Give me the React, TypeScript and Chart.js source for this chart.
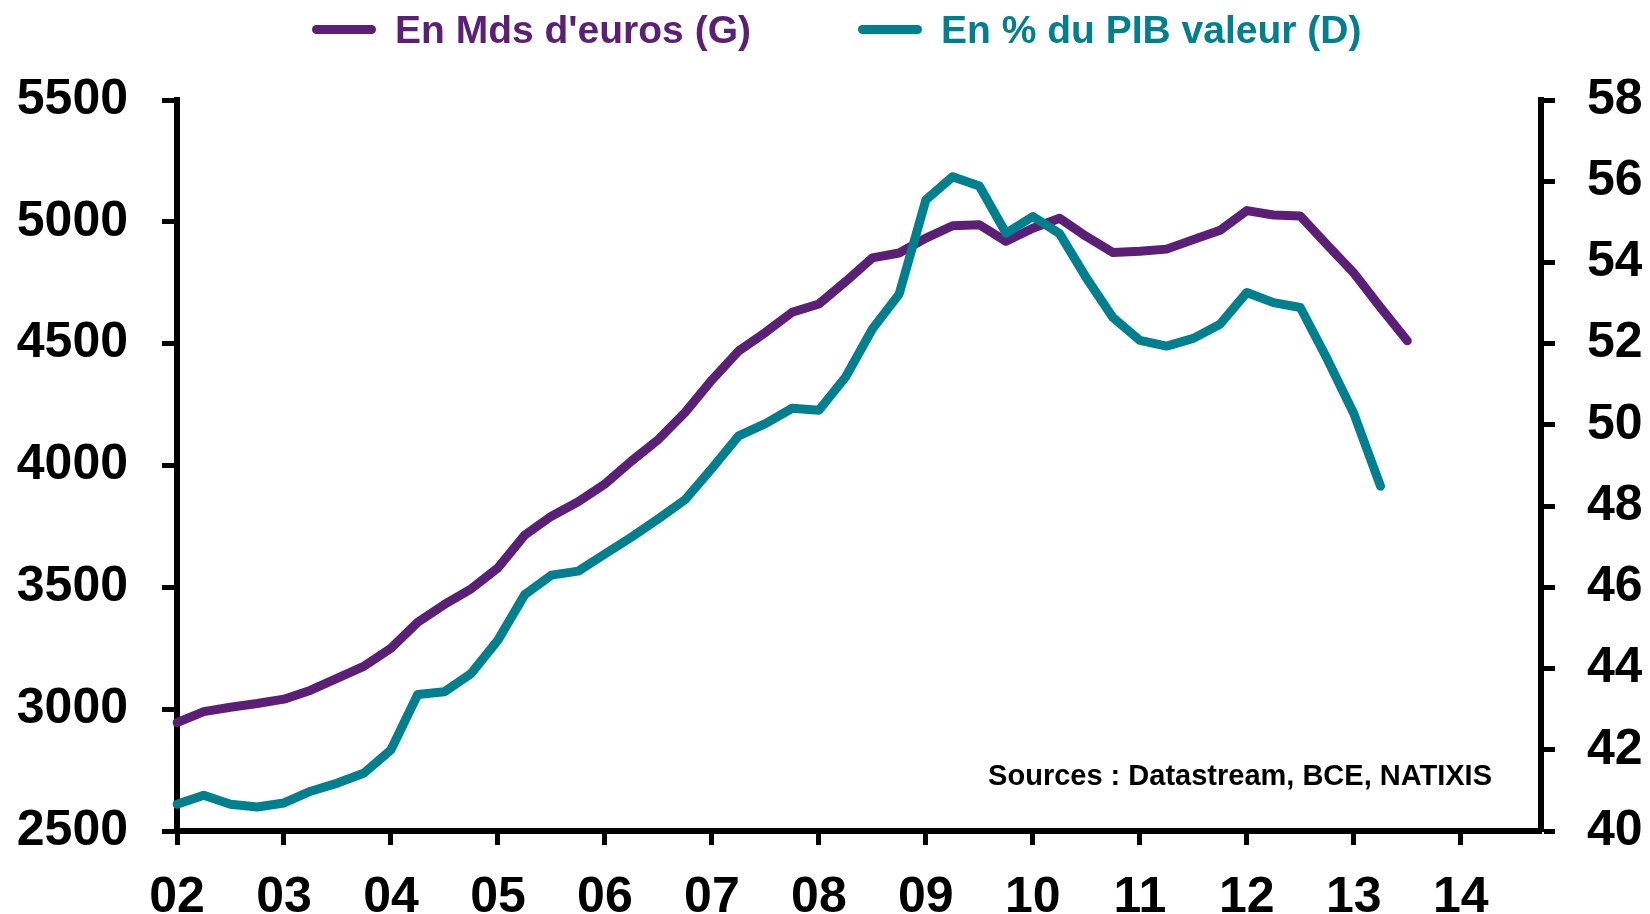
import React, { useEffect, useRef } from 'react';
import { Chart, registerables } from 'chart.js';

Chart.register(...registerables);

// Years shown on the x axis, quarterly categories built from them
const years = ['02', '03', '04', '05', '06', '07', '08', '09', '10', '11', '12', '13', '14'];
const quarters = ['T1', 'T2', 'T3', 'T4'];
const categories = years.flatMap((y) => quarters.map((q) => `${q} ${y}`));

// En Mds d'euros (axe de gauche)
const encoursMds = [
  2945, 2990, 3008, 3023,
  3041, 3078, 3127, 3177,
  3250, 3357, 3430, 3494,
  3580, 3714, 3792, 3851,
  3924, 4019, 4107, 4218,
  4351, 4470, 4546, 4629,
  4663, 4755, 4852, 4872,
  4933, 4984, 4988, 4920,
  4974, 5015, 4940, 4874,
  4879, 4888, 4927, 4965,
  5046, 5028, 5024, 4906,
  4790, 4648, 4512,
];

// En % du PIB valeur (axe de droite)
const encoursPctPib = [
  40.66, 40.88, 40.66, 40.59,
  40.69, 40.98, 41.18, 41.43,
  42.0, 43.36, 43.43, 43.88,
  44.7, 45.82, 46.3, 46.4,
  46.82, 47.24, 47.69, 48.16,
  48.93, 49.73, 50.03, 50.41,
  50.36, 51.18, 52.36, 53.22,
  55.54, 56.11, 55.88, 54.72,
  55.13, 54.71, 53.62, 52.64,
  52.08, 51.94, 52.13, 52.48,
  53.26, 53.01, 52.89, 51.63,
  50.28, 48.49,
];

const seriesNames = ["En Mds d'euros (G)", 'En % du PIB valeur (D)'];
const sourceText = 'Sources : Datastream, BCE, NATIXIS';

const PURPLE = '#5B1F77';
const TEAL = '#00808F';
const FONT = '"Liberation Sans", Arial, Helvetica, sans-serif';

export default function App() {
  const ref = useRef<HTMLCanvasElement | null>(null);

  useEffect(() => {
    document.body.style.margin = '0';
    const canvas = ref.current;
    if (!canvas) return;

    const sourcesPlugin = {
      id: 'sourcesText',
      afterDraw(chart: any) {
        const ctx = chart.ctx;
        ctx.save();
        ctx.font = `bold 29px ${FONT}`;
        ctx.fillStyle = '#000';
        ctx.textAlign = 'right';
        ctx.textBaseline = 'middle';
        ctx.fillText(sourceText, 1492, 777);
        ctx.restore();
      },
    };

    const tickFont = { family: FONT, size: 50, weight: 'bold' as const, lineHeight: 0.8 };

    const chart = new Chart(canvas, {
      type: 'line',
      data: {
        labels: categories,
        datasets: [
          {
            label: seriesNames[0],
            data: encoursMds,
            yAxisID: 'yL',
            borderColor: PURPLE,
            backgroundColor: PURPLE,
            borderWidth: 9,
            pointRadius: 0,
            tension: 0,
            borderCapStyle: 'round',
            borderJoinStyle: 'round',
            order: 2,
          },
          {
            label: seriesNames[1],
            data: encoursPctPib,
            yAxisID: 'yR',
            borderColor: TEAL,
            backgroundColor: TEAL,
            borderWidth: 9,
            pointRadius: 0,
            tension: 0,
            borderCapStyle: 'round',
            borderJoinStyle: 'round',
            order: 1,
          },
        ],
      },
      options: {
        responsive: false,
        animation: false,
        devicePixelRatio: 1,
        layout: { padding: { top: 100, left: 16, right: 8, bottom: 1 } },
        plugins: {
          legend: { display: false },
          tooltip: { enabled: false },
        },
        scales: {
          x: {
            type: 'category',
            offset: false,
            afterFit: (s: any) => {
              s.height = 82;
            },
            grid: {
              display: true,
              drawOnChartArea: false,
              drawTicks: true,
              tickLength: 14,
              tickWidth: 5,
              tickColor: '#000',
            },
            border: { display: true, color: '#000', width: 6 },
            ticks: {
              autoSkip: false,
              maxRotation: 0,
              minRotation: 0,
              padding: 33,
              color: '#000',
              font: tickFont,
              callback: (_v: any, index: number) => (index % 4 === 0 ? years[index / 4] : null),
            },
          },
          yL: {
            type: 'linear',
            position: 'left',
            min: 2500,
            max: 5500,
            afterFit: (s: any) => {
              s.width = 161;
            },
            grid: {
              display: true,
              drawOnChartArea: false,
              drawTicks: true,
              tickLength: 15,
              tickWidth: 5,
              tickColor: '#000',
            },
            border: { display: true, color: '#000', width: 6 },
            ticks: {
              stepSize: 500,
              padding: 34,
              color: '#000',
              font: tickFont,
              callback: (v: any) => String(v),
            },
          },
          yR: {
            type: 'linear',
            position: 'right',
            min: 40,
            max: 58,
            afterFit: (s: any) => {
              s.width = 101;
            },
            grid: {
              display: true,
              drawOnChartArea: false,
              drawTicks: true,
              tickLength: 14,
              tickWidth: 5,
              tickColor: '#000',
            },
            border: { display: true, color: '#000', width: 6 },
            ticks: {
              stepSize: 2,
              padding: 32,
              color: '#000',
              font: tickFont,
              callback: (v: any) => String(v),
            },
          },
        },
      },
      plugins: [sourcesPlugin],
    });

    return () => chart.destroy();
  }, []);

  const legendItems = [
    { name: seriesNames[0], color: PURPLE, left: 312 },
    { name: seriesNames[1], color: TEAL, left: 858 },
  ];

  return (
    <div style={{ position: 'relative', width: 1650, height: 914, background: '#fff' }}>
      <canvas ref={ref} width={1650} height={914} style={{ display: 'block' }} />
      {legendItems.map((it) => (
        <div
          key={it.name}
          style={{
            position: 'absolute',
            left: it.left,
            top: 0,
            height: 59,
            display: 'flex',
            alignItems: 'center',
          }}
        >
          <div
            style={{
              width: 64,
              height: 9,
              borderRadius: 4.5,
              background: it.color,
              marginRight: 19,
            }}
          />
          <span
            style={{
              fontFamily: FONT,
              fontWeight: 'bold',
              fontSize: 39,
              lineHeight: '39px',
              color: it.color,
              whiteSpace: 'nowrap',
            }}
          >
            {it.name}
          </span>
        </div>
      ))}
    </div>
  );
}
